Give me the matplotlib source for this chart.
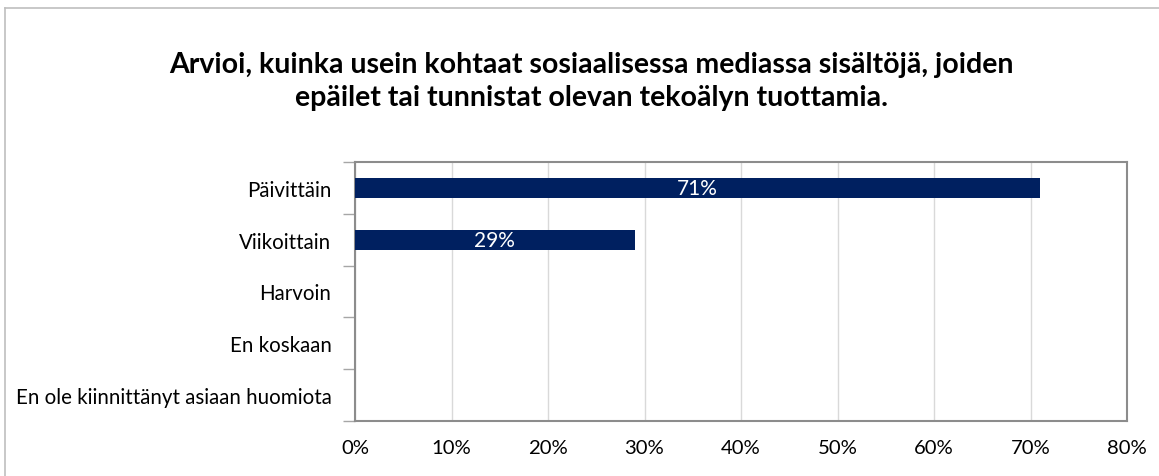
import matplotlib.pyplot as plt
from matplotlib.lines import Line2D

categories = ["Päivittäin", "Viikoittain", "Harvoin", "En koskaan",
              "En ole kiinnittänyt asiaan huomiota"]
values = [71, 29, 0, 0, 0]
xticks = [0, 10, 20, 30, 40, 50, 60, 70, 80]

title = ("Arvioi, kuinka usein kohtaat sosiaalisessa mediassa sisältöjä, joiden\n"
         "epäilet tai tunnistat olevan tekoälyn tuottamia.")

plt.rcParams['font.family'] = ['Lato', 'DejaVu Sans']

fig = plt.figure(figsize=(11.59, 4.77), dpi=100)
ax = fig.add_axes([0.3063, 0.1153, 0.6661, 0.543])

ypos = list(range(len(categories)))
bars = ax.barh(ypos, values, height=0.39, color="#002060", zorder=3)
for b, v in zip(bars, values):
    if v > 0:
        ax.text(b.get_width() / 2, b.get_y() + b.get_height() / 2, f"{v}%",
                ha="center", va="center", color="white", fontsize=15, zorder=4)

ax.set_xlim(0, 80)
ax.set_ylim(len(categories) - 0.5, -0.5)
ax.set_xticks(xticks)
ax.set_xticklabels([f"{t}%" for t in xticks], fontsize=14.6)
ax.set_yticks(ypos)
ax.set_yticklabels(categories, fontsize=14.8)
ax.tick_params(axis="y", length=0, pad=17)
ax.tick_params(axis="x", length=0, pad=13)
ax.set_yticks([i + 0.5 for i in range(-1, len(categories))], minor=True)
ax.tick_params(axis="y", which="minor", length=9, color="#a6a6a6", width=1)
ax.grid(axis="x", color="#d9d9d9", linewidth=1, zorder=0)
ax.set_xticks(xticks, minor=True)
ax.tick_params(axis="x", which="minor", top=True, bottom=False, length=8,
               color="#d9d9d9", direction="out")
for s in ax.spines.values():
    s.set_color("#8c8c8c")
    s.set_linewidth(1.5)

fig.text(0.51, 0.89, title, ha="center", va="top", fontsize=20.5,
         fontweight="bold", linespacing=1.33)

fig.add_artist(Line2D([5 / 1159, 1], [1 - 9 / 477, 1 - 9 / 477],
                      color="#bfbfbf", linewidth=1.2, transform=fig.transFigure))
fig.add_artist(Line2D([5 / 1159, 5 / 1159], [0, 1 - 9 / 477],
                      color="#bfbfbf", linewidth=1.2, transform=fig.transFigure))

fig.savefig("out.png", dpi=100)
